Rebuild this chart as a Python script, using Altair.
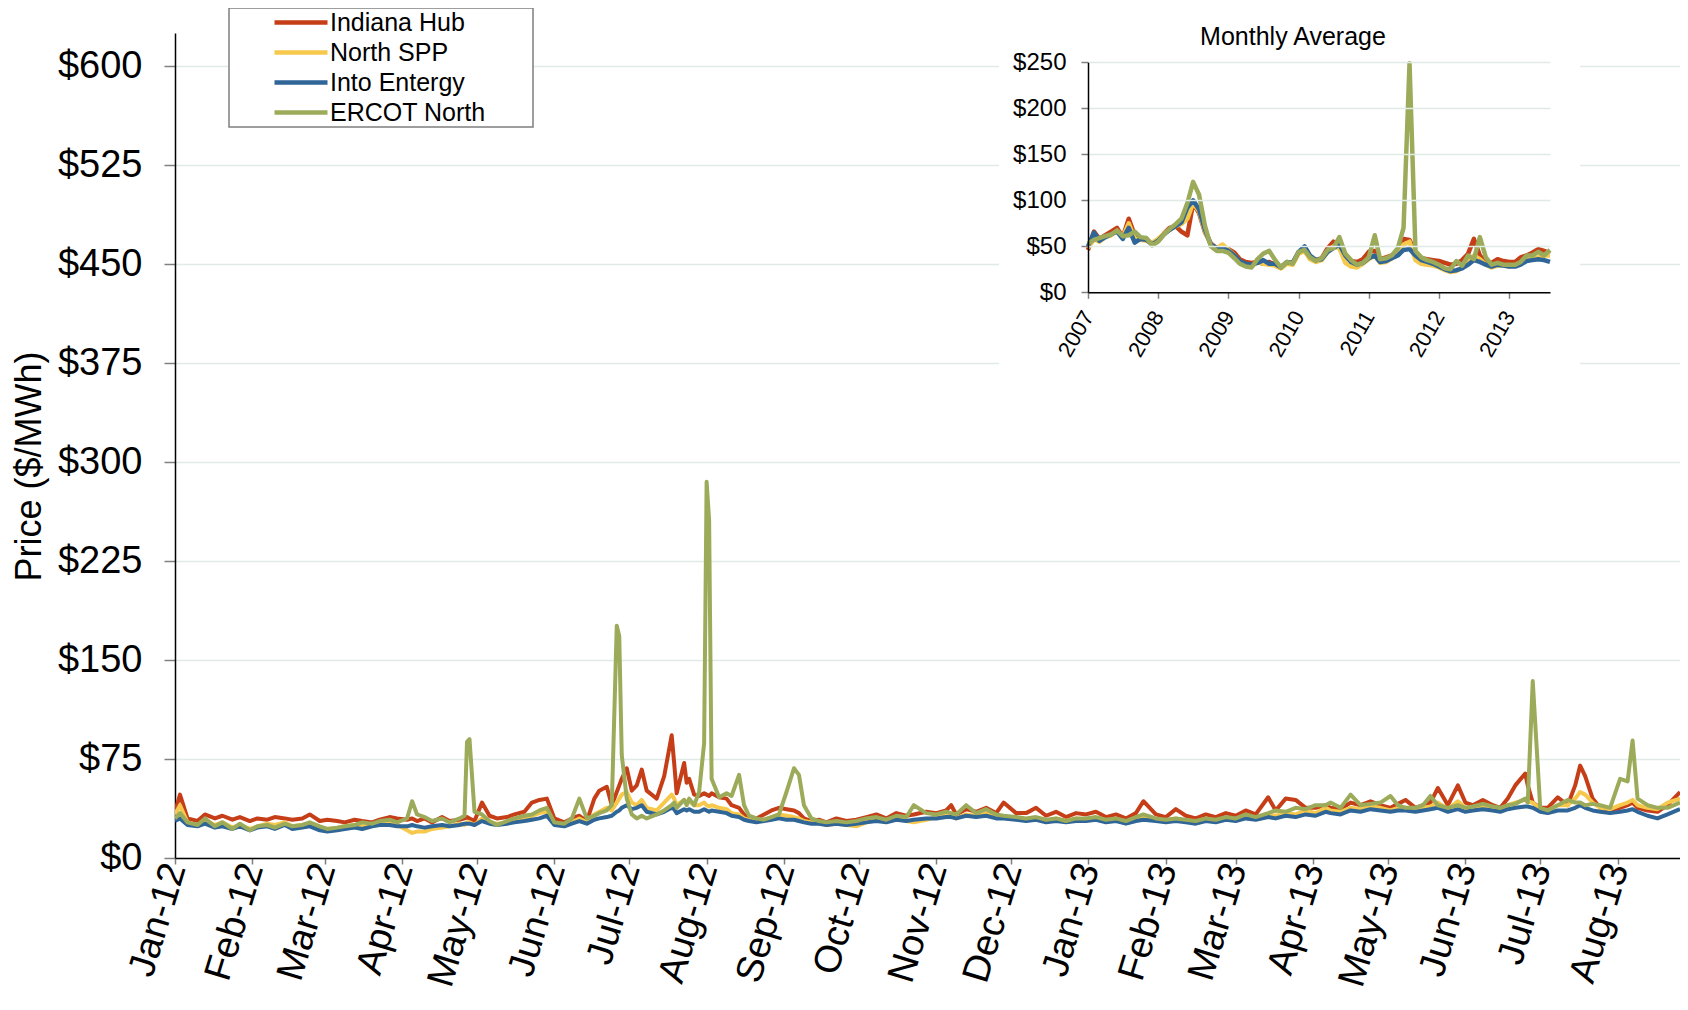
import altair as alt
import pandas as pd

SERIES = ["Indiana Hub", "North SPP", "Into Entergy", "ERCOT North"]
COLORS = ["#C63E17", "#F6C84C", "#2F6597", "#9CAB5A"]
INSET_TITLE = "Monthly Average"
Y_TITLE = "Price ($/MWh)"
FONT = "Liberation Sans"

main_ticks = [0, 75, 150, 225, 300, 375, 450, 525, 600]
inset_ticks = [0, 50, 100, 150, 200, 250]

# ---------------- daily prices (main chart) ----------------
daily_dates = [
    # 2012 Jan
    "2012-01-01", "2012-01-03", "2012-01-06", "2012-01-10", "2012-01-13", "2012-01-17", "2012-01-20", "2012-01-24", "2012-01-27", "2012-01-31",
    # Feb
    "2012-02-03", "2012-02-07", "2012-02-10", "2012-02-14", "2012-02-17", "2012-02-21", "2012-02-24", "2012-02-28",
    # Mar
    "2012-03-02", "2012-03-06", "2012-03-09", "2012-03-13", "2012-03-16", "2012-03-20", "2012-03-23", "2012-03-27", "2012-03-30",
    # Apr
    "2012-04-03", "2012-04-05", "2012-04-07", "2012-04-10", "2012-04-13", "2012-04-17", "2012-04-20", "2012-04-24", "2012-04-26", "2012-04-27", "2012-04-28", "2012-04-30",
    # May
    "2012-05-03", "2012-05-06", "2012-05-09", "2012-05-13", "2012-05-16", "2012-05-20", "2012-05-23", "2012-05-26", "2012-05-29",
    # Jun
    "2012-06-01", "2012-06-05", "2012-06-08", "2012-06-11", "2012-06-14", "2012-06-17", "2012-06-19", "2012-06-22", "2012-06-24", "2012-06-26", "2012-06-27", "2012-06-28", "2012-06-30",
    # Jul
    "2012-07-02", "2012-07-04", "2012-07-06", "2012-07-08", "2012-07-12", "2012-07-15", "2012-07-18", "2012-07-19", "2012-07-20", "2012-07-23", "2012-07-24", "2012-07-25", "2012-07-27", "2012-07-29", "2012-07-31",
    # Aug
    "2012-08-01", "2012-08-02", "2012-08-03", "2012-08-06", "2012-08-09", "2012-08-11", "2012-08-14", "2012-08-16", "2012-08-18", "2012-08-21", "2012-08-24", "2012-08-27", "2012-08-30",
    # Sep
    "2012-09-02", "2012-09-05", "2012-09-07", "2012-09-09", "2012-09-12", "2012-09-15", "2012-09-18", "2012-09-22", "2012-09-26", "2012-09-30",
    # Oct
    "2012-10-04", "2012-10-08", "2012-10-12", "2012-10-16", "2012-10-20", "2012-10-23", "2012-10-28",
    # Nov
    "2012-11-01", "2012-11-05", "2012-11-07", "2012-11-09", "2012-11-13", "2012-11-17", "2012-11-21", "2012-11-25", "2012-11-28",
    # Dec
    "2012-12-03", "2012-12-07", "2012-12-11", "2012-12-15", "2012-12-19", "2012-12-23", "2012-12-27", "2012-12-31",
    # 2013 Jan
    "2013-01-04", "2013-01-08", "2013-01-12", "2013-01-16", "2013-01-20", "2013-01-23", "2013-01-28",
    # Feb
    "2013-02-01", "2013-02-05", "2013-02-09", "2013-02-13", "2013-02-17", "2013-02-21", "2013-02-25",
    # Mar
    "2013-03-01", "2013-03-05", "2013-03-09", "2013-03-14", "2013-03-17", "2013-03-21", "2013-03-25", "2013-03-29",
    # Apr
    "2013-04-02", "2013-04-06", "2013-04-08", "2013-04-12", "2013-04-16", "2013-04-20", "2013-04-24", "2013-04-28",
    # May
    "2013-05-02", "2013-05-05", "2013-05-08", "2013-05-12", "2013-05-15", "2013-05-18", "2013-05-21", "2013-05-25", "2013-05-29",
    # Jun
    "2013-06-01", "2013-06-04", "2013-06-08", "2013-06-12", "2013-06-15", "2013-06-18", "2013-06-21", "2013-06-25", "2013-06-26", "2013-06-28",
    # Jul
    "2013-07-01", "2013-07-04", "2013-07-08", "2013-07-12", "2013-07-15", "2013-07-17", "2013-07-19", "2013-07-22", "2013-07-25", "2013-07-29",
    # Aug
    "2013-08-02", "2013-08-05", "2013-08-07", "2013-08-09", "2013-08-13", "2013-08-17", "2013-08-21", "2013-08-26",
]

indiana_hub = [
    35, 48, 30, 28, 33, 30, 32, 29, 31, 28,
    30, 29, 31, 30, 29, 30, 33, 28,
    29, 28, 27, 29, 28, 27, 29, 31, 30,
    29, 30, 28, 30, 27, 31, 28, 29, 30, 31, 30, 28,
    42, 32, 30, 31, 33, 35, 42, 44, 45,
    30, 27, 30, 32, 28, 45, 51, 54, 40, 50, 55, 60, 68,
    51, 55, 67, 51, 45, 62, 93, 72, 49, 72, 57, 60, 48, 47, 49,
    48, 47, 49, 46, 45, 40, 38, 33, 31, 30, 33, 36, 38,
    37, 36, 34, 30, 28, 29, 27, 30, 28, 29,
    31, 33, 30, 34, 32, 33, 35,
    34, 36, 40, 33, 37, 35, 38, 34, 42,
    34, 34, 38, 32, 35, 31, 34, 33,
    35, 31, 33, 30, 34, 43, 33,
    31, 37, 32, 30, 33, 31, 34,
    32, 36, 33, 46, 36, 45, 44, 38,
    38, 40, 38, 37, 42, 40, 43, 40,
    38, 41, 44, 38, 40, 42, 53, 40, 55,
    42, 40, 44, 40, 38, 45, 55, 64, 55, 42,
    38, 38, 46, 40, 55, 70, 62, 45, 38, 36,
    38, 40, 42, 38, 36, 35, 40, 50,
]

north_spp = [
    33, 40, 27, 25, 28, 25, 27, 23, 25, 22,
    24, 26, 25, 27, 24, 25, 26, 23,
    22, 23, 24, 25, 24, 25, 26, 27, 25,
    21, 19, 20, 20, 22, 23, 24, 26, 25, 27, 27, 25,
    30, 27, 26, 27, 28, 30, 32, 34, 35,
    26, 25, 27, 30, 27, 33, 35, 38, 36, 42, 45, 48, 50,
    42, 40, 44, 38, 36, 42, 48, 45, 40, 44, 42, 43, 40, 40, 42,
    40, 39, 40, 38, 37, 34, 33, 30, 29, 28, 29, 31, 33,
    32, 31, 30, 28, 27, 28, 25, 26, 25, 24,
    27, 29, 28, 30, 28, 27, 29,
    31, 32, 32, 30, 33, 32, 34, 31, 31,
    30, 29, 30, 28, 30, 28, 30, 29,
    30, 28, 29, 27, 29, 31, 29,
    28, 30, 28, 27, 29, 28, 30,
    29, 31, 30, 33, 32, 34, 33, 36,
    34, 38, 36, 35, 38, 37, 39, 38,
    36, 38, 38, 36, 38, 39, 42, 37, 43,
    38, 37, 39, 38, 37, 40, 42, 44, 43, 42,
    37, 36, 40, 40, 45, 50, 48, 42, 38, 37,
    40, 42, 44, 40, 38, 37, 42, 45,
]

into_entergy = [
    28, 30, 25, 24, 26, 23, 24, 22, 24, 21,
    23, 24, 22, 25, 22, 23, 24, 21,
    20, 21, 22, 23, 22, 24, 25, 25, 24,
    24, 25, 24, 23, 24, 25, 24, 25, 26, 26, 26, 25,
    28, 26, 25, 26, 27, 28, 29, 30, 32,
    25, 24, 26, 28, 26, 29, 30, 31, 32, 35, 36, 38, 40,
    37, 38, 40, 35, 33, 35, 38, 37, 34, 37, 36, 37, 35, 35, 37,
    36, 35, 36, 35, 34, 32, 31, 29, 28, 27, 28, 29, 30,
    29, 29, 28, 27, 26, 26, 25, 26, 25, 26,
    27, 28, 27, 29, 28, 29, 30,
    30, 31, 31, 30, 32, 31, 32, 30, 30,
    29, 28, 29, 27, 28, 27, 28, 28,
    29, 27, 28, 26, 28, 29, 28,
    27, 28, 27, 26, 28, 27, 29,
    28, 30, 29, 31, 30, 32, 31, 33,
    32, 35, 34, 33, 36, 35, 37, 36,
    35, 36, 36, 35, 36, 37, 38, 35, 37,
    35, 36, 37, 36, 35, 37, 38, 39, 39, 38,
    35, 34, 36, 36, 38, 40, 38, 36, 35, 34,
    35, 36, 37, 35, 32, 30, 33, 37,
]

ercot_north = [
    30, 34, 27, 25, 30, 24, 27, 22, 26, 21,
    24, 25, 23, 26, 24, 25, 27, 24,
    22, 23, 24, 25, 27, 26, 28, 29, 27,
    30, 43, 33, 31, 28, 30, 27, 30, 32, 88, 90, 35,
    33, 28, 25, 28, 30, 32, 33, 36, 38,
    27, 26, 30, 45, 30, 32, 34, 36, 40, 176, 168, 78, 45,
    33, 30, 32, 30, 33, 36, 40, 42, 38, 44, 40, 45, 40, 50, 87,
    285, 256, 60, 46, 49, 47, 63, 40, 32, 30, 29, 31, 33,
    50, 68, 63, 40, 30, 28, 27, 28, 27, 28,
    30, 31, 29, 32, 31, 40, 34,
    33, 35, 34, 33, 40, 34, 37, 33, 32,
    31, 30, 31, 29, 30, 28, 30, 30,
    31, 29, 30, 28, 31, 33, 30,
    29, 30, 29, 28, 30, 29, 31,
    30, 33, 31, 34, 36, 35, 38, 37,
    40, 40, 42, 38, 48, 40, 41, 42,
    47, 40, 38, 38, 40, 47, 40, 38, 40,
    38, 39, 41, 39, 38, 40, 41, 45, 42, 134,
    38, 36, 40, 44, 42, 42, 40, 41, 40, 38,
    60, 58, 89, 45, 40, 38, 38, 42,
]

# ---------------- monthly averages (inset), Jan 2007 - Aug 2013 ----------------
inset_start = "2007-01-01"
inset_months = 80

m_indiana = [
    46, 66, 58, 62, 66, 70, 60, 80, 62, 58, 58, 52,
    56, 64, 70, 72, 66, 62, 97, 86, 65, 53, 48, 48,
    47, 43, 36, 33, 32, 33, 31, 33, 30, 28, 32, 32,
    43, 45, 38, 35, 37, 48, 55, 50, 40, 34, 33, 36,
    44, 45, 36, 38, 40, 45, 58, 57, 42, 37, 36, 35,
    34, 32, 30, 31, 35, 42, 58, 40, 32, 32, 36, 34,
    33, 33, 38, 40, 43, 47, 45, 42,
]
m_spp = [
    48, 58, 55, 60, 62, 67, 60, 75, 58, 57, 56, 54,
    58, 64, 68, 72, 74, 80, 97, 88, 66, 52, 48, 52,
    46, 40, 33, 30, 28, 33, 31, 30, 29, 26, 31, 30,
    42, 45, 36, 33, 35, 44, 50, 48, 32, 28, 27, 31,
    36, 40, 32, 33, 37, 44, 52, 55, 35, 31, 30, 29,
    27, 24, 22, 23, 27, 33, 40, 36, 30, 27, 29, 29,
    28, 29, 31, 35, 36, 38, 40, 40,
]
m_entergy = [
    50, 65, 56, 60, 63, 66, 58, 70, 54, 58, 57, 52,
    56, 63, 68, 72, 76, 92, 100, 90, 68, 52, 48, 48,
    45, 40, 34, 31, 30, 32, 35, 31, 31, 27, 33, 32,
    44, 50, 40, 35, 36, 44, 48, 52, 40, 33, 30, 32,
    37, 40, 33, 34, 37, 40, 46, 47, 40, 35, 33, 31,
    28, 25, 23, 24, 26, 30, 35, 33, 30, 28, 30, 29,
    28, 28, 30, 34, 35, 36, 35, 33,
]
m_ercot = [
    53, 57, 59, 61, 63, 67, 61, 62, 66, 60, 59, 51,
    55, 63, 69, 74, 80, 97, 120, 106, 72, 50, 45, 45,
    43, 37, 31, 28, 27, 36, 42, 45, 35, 27, 33, 31,
    44, 46, 38, 34, 37, 46, 48, 60, 42, 35, 30, 32,
    38, 62, 36, 37, 40, 48, 70, 249, 45, 38, 35, 33,
    30, 26, 25, 34, 29, 40, 36, 60, 38, 30, 32, 30,
    30, 30, 33, 40, 40, 44, 40, 46,
]

# ---------------- tables ----------------
daily_series = [indiana_hub, north_spp, into_entergy, ercot_north]
for s in daily_series:
    assert len(s) == len(daily_dates), (len(s), len(daily_dates))
rows = []
for name, vals in zip(SERIES, daily_series):
    for d, v in zip(daily_dates, vals):
        rows.append({"date": d, "series": name, "price": v})
daily_df = pd.DataFrame(rows)
daily_df["date"] = pd.to_datetime(daily_df["date"])

month_index = pd.date_range(inset_start, periods=inset_months, freq="MS")
monthly_series = [m_indiana, m_spp, m_entergy, m_ercot]
mrows = []
for name, vals in zip(SERIES, monthly_series):
    assert len(vals) == inset_months, (name, len(vals))
    for d, v in zip(month_index, vals):
        mrows.append({"month": d, "series": name, "avg": v})
monthly_df = pd.DataFrame(mrows)

# ---------------- layout (pixels inside the plot group) ----------------
W, H = 1505, 825
GRID = "#E0EBE8"

legend = alt.Legend(
    orient="none", legendX=97, legendY=-23, title=None,
    symbolType="stroke", symbolSize=2809, symbolStrokeWidth=4.5,
    labelFontSize=25, labelFont=FONT, labelColor="black",
    padding=0, rowPadding=4, clipHeight=25, labelOffset=0, zindex=1,
)
color_enc = alt.Color("series:N", scale=alt.Scale(domain=SERIES, range=COLORS), legend=legend)

main = alt.Chart(daily_df).mark_line(strokeWidth=4, clip=True, strokeJoin="round").encode(
    x=alt.X(
        "date:T",
        scale=alt.Scale(domain=[alt.DateTime(year=2012, month=1, date=1),
                                alt.DateTime(year=2013, month=8, date=26)]),
        axis=alt.Axis(
            title=None, format="%b-%y", tickCount={"interval": "month", "step": 1},
            labelAngle=-73, labelFontSize=38, labelFont=FONT, labelColor="black",
            labelPadding=0, tickSize=6, tickColor="#808080", tickWidth=1.5,
            domainColor="black", domainWidth=1.5, grid=False,
            labelOverlap=False, labelFlush=False,
        ),
    ),
    y=alt.Y(
        "price:Q",
        scale=alt.Scale(domain=[0, 625], nice=False),
        axis=alt.Axis(
            title=Y_TITLE, titleFontSize=36, titleFont=FONT, titleFontWeight="normal",
            titleColor="black", titleX=-127, titleY=433,
            values=main_ticks, format="$.0f",
            labelFontSize=38, labelFont=FONT, labelColor="black", labelPadding=22,
            tickSize=11, tickColor="#808080", tickWidth=1.5,
            domainColor="black", domainWidth=1.5,
            grid=True, gridColor=GRID, gridWidth=1.5,
        ),
    ),
    color=color_enc,
)

one_row = alt.Data(values=[{"k": 1}])

inset_bg = alt.Chart(one_row).mark_rect(fill="white").encode(
    x=alt.value(824), x2=alt.value(1405), y=alt.value(-25), y2=alt.value(335)
)

legend_box = alt.Chart(one_row).mark_rect(fill="white", stroke="#7F7F7F", strokeWidth=1.5).encode(
    x=alt.value(54), x2=alt.value(358), y=alt.value(-25), y2=alt.value(94)
)

inset_title = alt.Chart(alt.Data(values=[{"t": INSET_TITLE}])).mark_text(
    fontSize=25, font=FONT, color="black", baseline="middle", align="center"
).encode(text="t:N", x=alt.value(1118), y=alt.value(4))

inset = alt.Chart(monthly_df).mark_line(strokeWidth=4.5, strokeJoin="round").encode(
    x=alt.X(
        "month:T",
        scale=alt.Scale(domain=[alt.DateTime(year=2007, month=1, date=1),
                                alt.DateTime(year=2013, month=8, date=1)],
                        range=[913, 1375]),
        axis=alt.Axis(
            orient="bottom", offset=259.3 - H, title=None, format="%Y",
            tickCount={"interval": "year", "step": 1},
            labelAngle=-60, labelFontSize=22, labelFont=FONT, labelColor="black",
            labelPadding=14, tickSize=6, tickColor="#808080", tickWidth=1.5,
            domainColor="black", domainWidth=1.5, grid=False,
            labelOverlap=False, labelFlush=False, zindex=1,
        ),
    ),
    y=alt.Y(
        "avg:Q",
        scale=alt.Scale(domain=[0, 250], range=[259.3, 29.3], nice=False),
        axis=alt.Axis(
            orient="left", offset=-913, title=None, values=inset_ticks, format="$.0f",
            labelFontSize=24, labelFont=FONT, labelColor="black", labelPadding=15,
            tickSize=7, tickColor="#808080", tickWidth=1.5,
            domainColor="black", domainWidth=1.5,
            grid=True, gridColor=GRID, gridWidth=1.5, zindex=1,
        ),
    ),
    color=color_enc,
)

chart = alt.layer(main, inset_bg, legend_box, inset_title, inset).resolve_scale(
    x="independent", y="independent"
).properties(
    width=W, height=H,
    autosize=alt.AutoSizeParams(type="none"),
    padding={"left": 167, "top": 25, "right": 0, "bottom": 140},
    background="white",
).configure_view(stroke=None)

chart.save("out.html", embed_options={"renderer": "svg", "actions": False})
